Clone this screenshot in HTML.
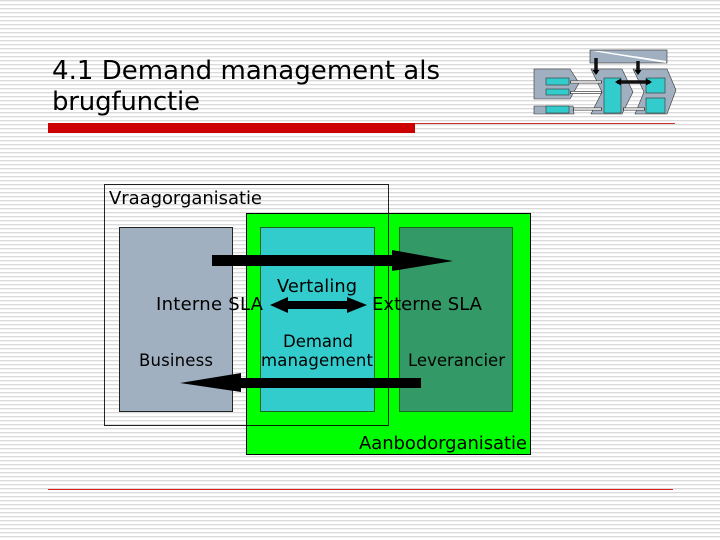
<!DOCTYPE html>
<html><head><meta charset="utf-8"><style>
html,body{margin:0;padding:0;background:#fff}
svg{display:block}
text{font-family:"DejaVu Sans",sans-serif;fill:#000}
</style></head><body>
<svg width="720" height="540" viewBox="0 0 720 540" xmlns="http://www.w3.org/2000/svg">
<defs><pattern id="s" width="4" height="4" patternUnits="userSpaceOnUse"><rect width="4" height="4" fill="#fff"/><rect y="0" width="4" height="1" fill="#dadada"/><rect y="1" width="4" height="1" fill="#f3f3f3"/></pattern></defs>
<rect width="720" height="540" fill="url(#s)"/>
<text x="52" y="79" font-size="26" textLength="388" lengthAdjust="spacing">4.1 Demand management als</text>
<text x="52" y="110" font-size="26" textLength="148" lengthAdjust="spacing">brugfunctie</text>
<rect x="48" y="123" width="627" height="1" fill="#cc3030"/>
<rect x="48" y="123" width="367" height="10" fill="#cc0000"/>
<rect x="48" y="489" width="625" height="1" fill="#d82020"/>

<!-- logo -->
<g stroke="#333" stroke-width=".6">
<rect x="590" y="50" width="77" height="13" fill="#a0b0c0"/>
<polygon points="592,51 600,51 666,61 666,63" fill="#fff" stroke="none"/>
<polygon points="534,69 570,69 579,83 570,99 534,99" fill="#a0b0c0"/>
<polygon points="534,106 573,106 574,114 534,114" fill="#a0b0c0"/>
<polygon points="591,69 622,69 633,92 622,114 591,114 602,92" fill="#a0b0c0"/>
<polygon points="633,69 667,69 676,90 667,114 635,114 644,92" fill="#a0b0c0"/>
<g fill="#33cccc">
<rect x="546" y="78" width="23" height="7"/>
<rect x="546" y="89" width="23" height="6"/>
<rect x="546" y="106" width="23" height="7"/>
<rect x="604" y="78" width="17" height="35"/>
<rect x="646" y="78" width="19" height="15"/>
<rect x="646" y="98" width="19" height="15"/>
</g>
</g>
<path d="M570 82H602M570 92.500H602M573 109H602M623 109H645" stroke="#444" stroke-width="3" fill="none"/>
<path d="M571 82H601M571 92.500H601M574 109H601M624 109H644" stroke="#fff" stroke-width="1.500" fill="none"/>
<path d="M596 58V73M638 61V73M617 82H650" stroke="#111" stroke-width="3.500" fill="none"/>
<g fill="#000">
<polygon points="592.500,70 599.500,70 596,75"/>
<polygon points="634.500,70 641.500,70 638,75"/>
<polygon points="615,82 621,78.500 621,85.500"/>
<polygon points="652,82 646,78.500 646,85.500"/>
</g>

<!-- main -->
<rect x="246.500" y="213.500" width="284" height="241" fill="#00ff00" stroke="#000"/>
<rect x="119.500" y="227.500" width="113" height="184" fill="#a0b0c0" stroke="#222"/>
<rect x="260.500" y="227.500" width="114" height="184" fill="#33cccc" stroke="#1a661a"/>
<rect x="399.500" y="227.500" width="113" height="184" fill="#339966" stroke="#1a661a"/>
<rect x="104.500" y="184.500" width="284" height="241" fill="none" stroke="#000" stroke-opacity=".85"/>

<polygon points="212,255 392,255 392,250 453,261 392,271 392,266 212,266" fill="#000"/>
<polygon points="421,378 241,378 241,373 180,383 241,392 241,388 421,388" fill="#000"/>
<polygon points="270,305 288,297 288,301 347,301 347,297 367,305 347,313 347,309 288,309 288,313" fill="#000"/>

<text x="109" y="204" font-size="18" textLength="153" lengthAdjust="spacing">Vraagorganisatie</text>
<text x="277" y="292" font-size="17.800" textLength="80" lengthAdjust="spacing">Vertaling</text>
<text x="156" y="310" font-size="18" textLength="107" lengthAdjust="spacing">Interne SLA</text>
<text x="372" y="310" font-size="18" textLength="110" lengthAdjust="spacing">Externe SLA</text>
<text x="283" y="347" font-size="16.500" textLength="70" lengthAdjust="spacing">Demand</text>
<text x="261" y="366" font-size="16.500" textLength="112" lengthAdjust="spacing">management</text>
<text x="139" y="366" font-size="16.500" textLength="74" lengthAdjust="spacing">Business</text>
<text x="408" y="366" font-size="16.500" textLength="97" lengthAdjust="spacing">Leverancier</text>
<text x="359" y="449" font-size="18" textLength="168" lengthAdjust="spacing">Aanbodorganisatie</text>
</svg>
</body></html>
